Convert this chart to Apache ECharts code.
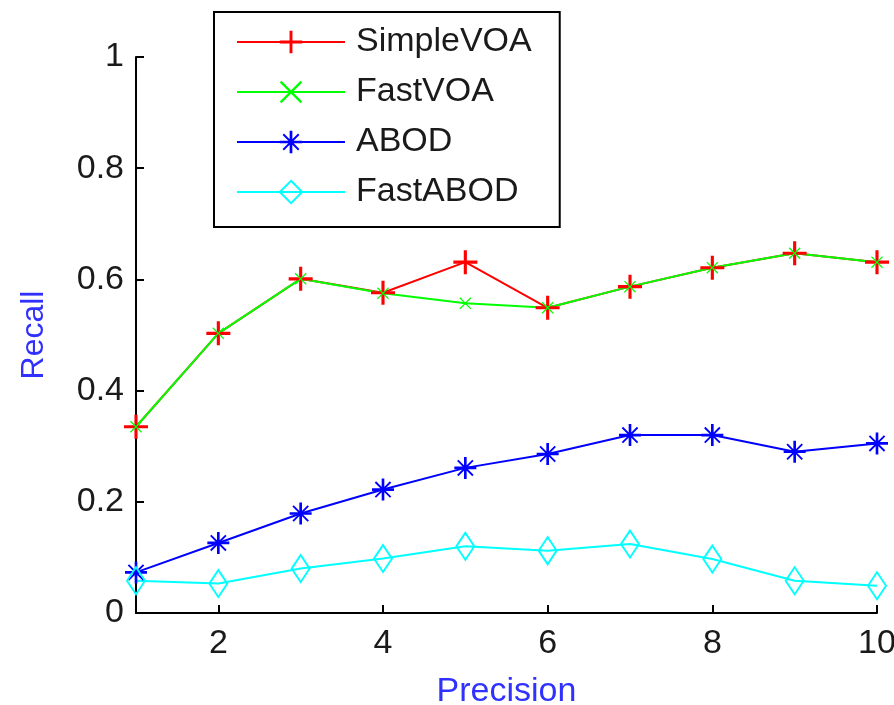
<!DOCTYPE html>
<html>
<head>
<meta charset="utf-8">
<script src="https://cdn.jsdelivr.net/npm/echarts@6/dist/echarts.min.js"></script>
<style>
  html, body { margin: 0; padding: 0; background: #fff; }
  #chart { width: 894px; height: 705px; }
</style>
</head>
<body>
<div id="chart"></div>
<script>
// precision values on the x axis
const precision = [1, 2, 3, 4, 5, 6, 7, 8, 9, 10];
const xTicks = [2, 4, 6, 8, 10];

// recall
const simpleVOA = [0.335, 0.503, 0.601, 0.576, 0.631, 0.549, 0.587, 0.621, 0.647, 0.631];
const fastVOA   = [0.335, 0.503, 0.601, 0.575, 0.557, 0.549, 0.587, 0.621, 0.647, 0.631];
const abod      = [0.073, 0.126, 0.179, 0.222, 0.261, 0.286, 0.320, 0.320, 0.290, 0.305];
const fastABOD  = [0.058, 0.053, 0.080, 0.098, 0.120, 0.112, 0.124, 0.097, 0.058, 0.049];

// matlab-like markers
const plusPath = 'path://M-1.3,-10 L1.3,-10 L1.3,-1.3 L10,-1.3 L10,1.3 L1.3,1.3 L1.3,10 L-1.3,10 L-1.3,1.3 L-10,1.3 L-10,-1.3 L-1.3,-1.3 Z';
const xPath = 'path://M-10,-8.5 L-8.5,-10 L10,8.5 L8.5,10 Z M8.5,-10 L10,-8.5 L-8.5,10 L-10,8.5 Z';
const starPath = 'path://M-1.2,-10 L1.2,-10 L1.2,-1.2 L10,-1.2 L10,1.2 L1.2,1.2 L1.2,10 L-1.2,10 L-1.2,1.2 L-10,1.2 L-10,-1.2 L-1.2,-1.2 Z ' +
  'M-7.5,-6.3 L-6.3,-7.5 L7.5,6.3 L6.3,7.5 Z M6.3,-7.5 L7.5,-6.3 L-6.3,7.5 L-7.5,6.3 Z';

function pairs(ys) {
  return precision.map((x, i) => [x, ys[i]]);
}

const chart = echarts.init(document.getElementById('chart'));

const font = 'Liberation Sans, Arial, sans-serif';

const option = {
  animation: false,
  grid: { left: 136, right: 17, top: 57, bottom: 92, outerBoundsMode: 'none' },
  legend: {
    orient: 'vertical',
    left: 214,
    top: 12,
    padding: [13, 28, 18, 22],
    itemWidth: 108,
    itemHeight: 28,
    itemGap: 16,
    borderColor: '#000',
    borderWidth: 2,
    backgroundColor: '#fff',
    textStyle: { fontSize: 34, fontFamily: font, color: '#1a1a1a', padding: [0, 0, 0, 6] },
    data: ['SimpleVOA', 'FastVOA', 'ABOD', 'FastABOD']
  },
  xAxis: {
    type: 'value',
    min: 1,
    max: 10,
    name: 'Precision',
    nameLocation: 'middle',
    nameGap: 62,
    nameTextStyle: { fontSize: 34, fontFamily: font, color: '#3030ff' },
    axisLine: { lineStyle: { color: '#000', width: 2 } },
    axisTick: { inside: true, length: 8, customValues: xTicks, lineStyle: { color: '#000', width: 2 } },
    axisLabel: { customValues: xTicks, margin: 14, fontSize: 34, fontFamily: font, color: '#1a1a1a' },
    splitLine: { show: false }
  },
  yAxis: {
    type: 'value',
    min: 0,
    max: 1,
    interval: 0.2,
    name: 'Recall',
    nameLocation: 'middle',
    nameGap: 86,
    nameTextStyle: { fontSize: 32, fontFamily: font, color: '#3030ff' },
    axisLine: { show: true, lineStyle: { color: '#000', width: 2 } },
    axisTick: { show: true, inside: true, length: 8, lineStyle: { color: '#000', width: 2 } },
    axisLabel: { margin: 12, fontSize: 34, fontFamily: font, color: '#1a1a1a' },
    splitLine: { show: false }
  },
  series: [
    {
      name: 'SimpleVOA',
      type: 'line',
      data: pairs(simpleVOA),
      symbol: plusPath,
      symbolSize: 24,
      symbolKeepAspect: true,
      showAllSymbol: true,
      lineStyle: { color: '#ff0000', width: 2 },
      itemStyle: { color: '#ff0000', borderWidth: 0 }
    },
    {
      name: 'FastVOA',
      type: 'line',
      data: pairs(fastVOA),
      symbol: xPath,
      symbolSize: 12,
      symbolKeepAspect: true,
      lineStyle: { color: '#00ff00', width: 2 },
      itemStyle: { color: '#00ff00', borderWidth: 0 }
    },
    {
      name: 'ABOD',
      type: 'line',
      data: pairs(abod),
      symbol: starPath,
      symbolSize: 22,
      symbolKeepAspect: true,
      lineStyle: { color: '#0000ff', width: 2 },
      itemStyle: { color: '#0000ff', borderWidth: 0 }
    },
    {
      name: 'FastABOD',
      type: 'line',
      data: pairs(fastABOD),
      symbol: 'diamond',
      symbolSize: [18, 27],
      lineStyle: { color: '#00ffff', width: 2 },
      itemStyle: { color: 'rgba(255,255,255,0)', borderColor: '#00ffff', borderWidth: 2 }
    }
  ]
};

chart.setOption(option);
</script>
</body>
</html>
